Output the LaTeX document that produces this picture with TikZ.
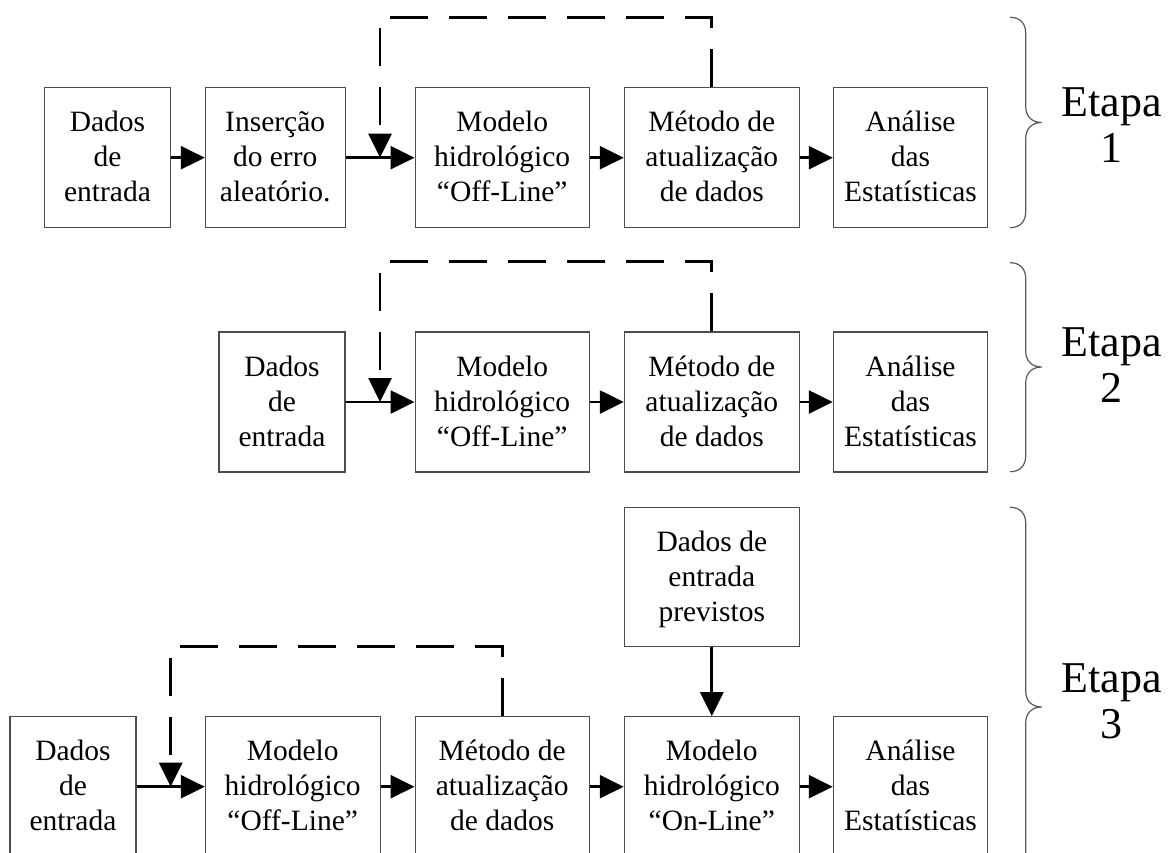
\documentclass[tikz,border=0pt]{standalone}
\usepackage{fontspec}
\setmainfont{Liberation Serif}
\usetikzlibrary{arrows.meta,calc}
% struts give every line of a box the same height and depth
\newcommand{\boxstrut}{\rule[-8.5pt]{0pt}{35pt}}
\newcommand{\etapastrut}{\rule[-9pt]{0pt}{45pt}}
\newcommand{\threelines}[3]{\boxstrut #1\\\boxstrut #2\\\boxstrut #3}

\begin{document}
\begin{tikzpicture}[x=1pt,y=-1pt,
  stage/.style={draw=black!70, line width=1.1pt, rectangle, inner sep=0pt,
    minimum height=140pt, align=center, font=\fontsize{29.5}{35}\selectfont},
  flow/.style={line width=2.7pt, -{Triangle[length=24pt,width=23pt]}},
  feedback/.style={flow, dash pattern=on 38pt off 21pt},
  bracepath/.style={draw=black!65, line width=1.2pt},
  etapa/.style={align=center, inner sep=0pt, font=\fontsize{44}{45}\selectfont}]

\useasboundingbox (0,0) rectangle (1168,852);
\fill[white] (0,0) rectangle (1168,852);
\clip (0,0) rectangle (1168,852);

% ---------- Etapa 1 ----------
\node[stage, minimum width=126.4pt] (d1) at (107.5,157.7) {\threelines{Dados}{de}{entrada}};
\node[stage, minimum width=139.7pt] (e1) at (275.2,157.7) {\threelines{Inserção}{do erro}{aleatório.}};
\node[stage, minimum width=174.3pt] (m1) at (502.2,157.7) {\threelines{Modelo}{hidrológico}{“Off-Line”}};
\node[stage, minimum width=175pt]   (a1) at (711.8,157.7) {\threelines{Método de}{atualização}{de dados}};
\node[stage, minimum width=154.4pt] (s1) at (910.5,157.7) {\threelines{Análise}{das}{Estatísticas}};

\draw[flow] (d1) -- (e1);
\draw[flow] (e1) -- (m1);
\draw[flow] (m1) -- (a1);
\draw[flow] (a1) -- (s1);
\coordinate (j1) at ($(e1.east)!0.5!(m1.west)$);
\draw[feedback] (a1.north) -- ++(0,-70) -| (j1);

% ---------- Etapa 2 ----------
\node[stage, minimum width=126pt]   (d2) at (282,402) {\threelines{Dados}{de}{entrada}};
\node[stage, minimum width=174.3pt] (m2) at (502.2,402) {\threelines{Modelo}{hidrológico}{“Off-Line”}};
\node[stage, minimum width=175pt]   (a2) at (711.8,402) {\threelines{Método de}{atualização}{de dados}};
\node[stage, minimum width=154.4pt] (s2) at (910.5,402) {\threelines{Análise}{das}{Estatísticas}};

\draw[flow] (d2) -- (m2);
\draw[flow] (m2) -- (a2);
\draw[flow] (a2) -- (s2);
\coordinate (j2) at ($(d2.east)!0.5!(m2.west)$);
\draw[feedback] (a2.north) -- ++(0,-70) -| (j2);

% ---------- Etapa 3 ----------
\node[stage, minimum width=175pt, minimum height=139.4pt] (p3) at (711.8,577)
  {\threelines{Dados de}{entrada}{previstos}};
\node[stage, minimum width=126pt]   (d3) at (73,786.7) {\threelines{Dados}{de}{entrada}};
\node[stage, minimum width=174.7pt] (m3) at (292.7,786.7) {\threelines{Modelo}{hidrológico}{“Off-Line”}};
\node[stage, minimum width=174.3pt] (a3) at (502.2,786.7) {\threelines{Método de}{atualização}{de dados}};
\node[stage, minimum width=175pt]   (o3) at (711.8,786.7) {\threelines{Modelo}{hidrológico}{“On-Line”}};
\node[stage, minimum width=154.4pt] (s3) at (910.5,786.7) {\threelines{Análise}{das}{Estatísticas}};

\draw[flow] (d3) -- (m3);
\draw[flow] (m3) -- (a3);
\draw[flow] (a3) -- (o3);
\draw[flow] (o3) -- (s3);
\draw[flow] (p3) -- (o3);
\coordinate (j3) at ($(d3.east)!0.5!(m3.west)$);
\draw[feedback] (a3.north) -- ++(0,-70) -| (j3);

% ---------- braces and stage labels ----------
\foreach \t/\m/\b in {17.3/122.5/227.7, 262.7/367/471.7, 507.3/707/906.7} {
  \draw[bracepath] (1010,\t) .. controls (1020,\t) and (1025.7,\t+6) .. (1025.7,\t+16)
    -- (1025.7,\m-16) .. controls (1025.7,\m-6) and (1032,\m) .. (1041.7,\m)
    .. controls (1032,\m) and (1025.7,\m+6) .. (1025.7,\m+16)
    -- (1025.7,\b-16) .. controls (1025.7,\b-6) and (1020,\b) .. (1010,\b);
}
\node[etapa] (etapa1) at (1111.7,125.7) {\etapastrut Etapa\\\etapastrut 1};
\node[etapa] (etapa2) at (1111.7,366.3) {\etapastrut Etapa\\\etapastrut 2};
\node[etapa] (etapa3) at (1111.7,702)   {\etapastrut Etapa\\\etapastrut 3};

\end{tikzpicture}
\end{document}
